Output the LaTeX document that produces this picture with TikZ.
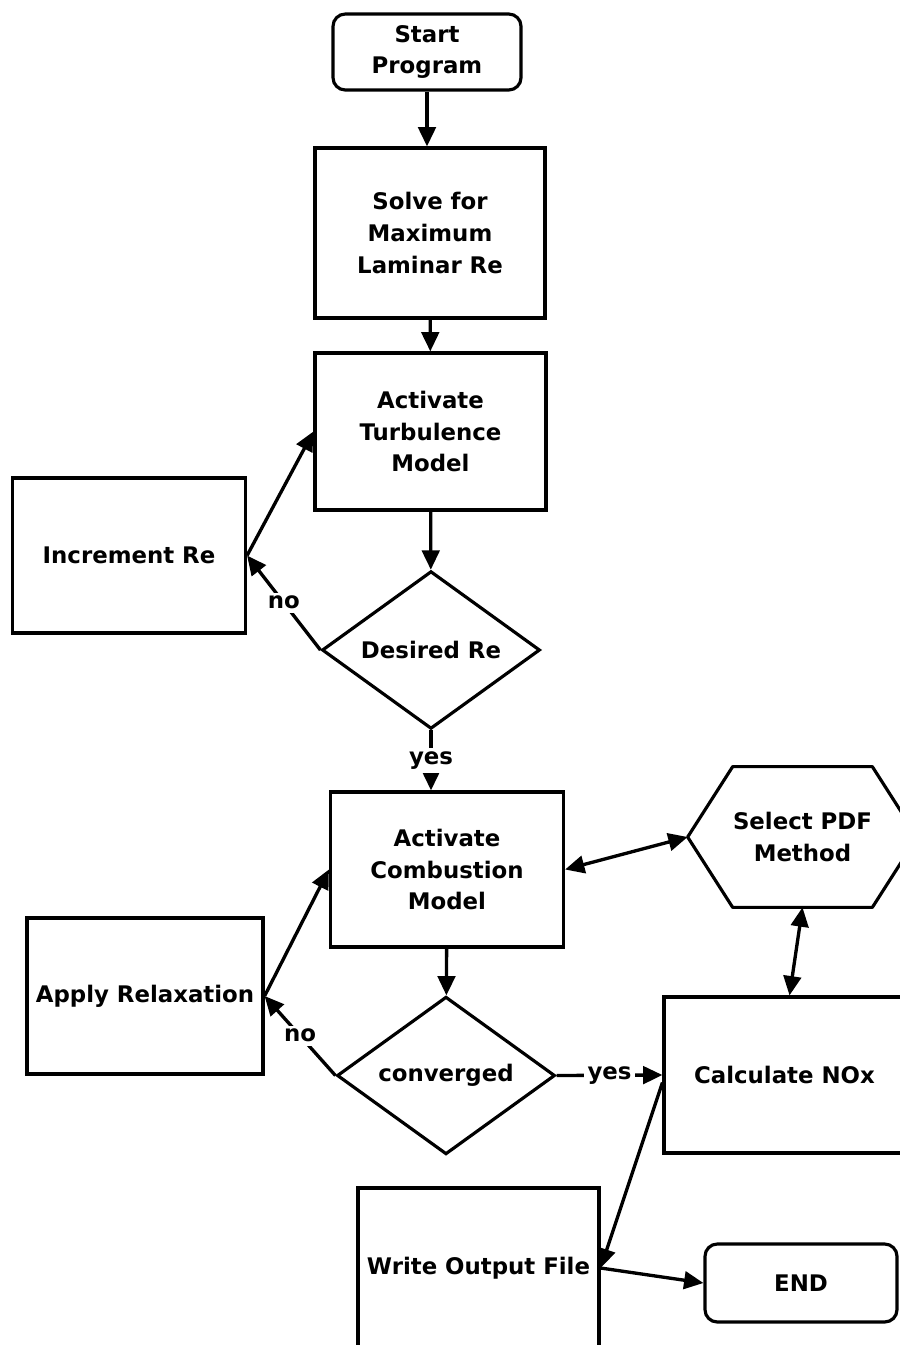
\documentclass[tikz,border=0pt]{standalone}
\usepackage{fontspec}
\setmainfont{DejaVu Sans}
\usepackage{tikz}
\usetikzlibrary{shapes, shapes.geometric, arrows.meta, positioning, calc}

\begin{document}
\begin{tikzpicture}[
	flow_term/.style = {draw, rectangle, rounded corners=7pt, line width=1.8pt,
		minimum width=3.76cm, minimum height=1.52cm, align=center},
	flow_proc/.style = {draw, rectangle, line width=1.8pt,
		minimum width=4.66cm, minimum height=3.12cm, align=center},
	flow_dec/.style  = {draw, diamond, line width=1.8pt, inner sep=0pt,
		minimum width=4.36cm, minimum height=2.75cm, align=center},
	flow_sel/.style  = {rectangle, minimum width=4.58cm, minimum height=2.8cm, align=center},
	flow_lbl/.style  = {fill=white, inner sep=2pt},
	line/.style      = {->, line width=1.9pt, >={Triangle[length=11pt, width=10pt]}},
	every node/.style = {font=\fontsize{13}{18}\selectfont\bfseries}
	]
	\useasboundingbox (0,0) rectangle (17.98,-26.9);
	
	% main column
	\node[flow_term] (start_prog) at (8.54,-1.04) {Start\\Program};
	\node[flow_proc, minimum height=3.4cm, minimum width=4.6cm] (solve) at (8.6,-4.66)
	{Solve for\\Maximum\\Laminar Re};
	\node[flow_proc, minimum height=3.14cm, minimum width=4.62cm] (turb) at (8.61,-8.63)
	{Activate\\Turbulence\\Model};
	\node[flow_dec] (desired) at (8.62,-13.0) {Desired Re};
	\node[flow_proc, minimum height=3.1cm] (incr) at (2.58,-11.11) {Increment Re};
	
	\node[flow_proc, minimum height=3.1cm] (combust) at (8.94,-17.39)
	{Activate\\Combustion\\Model};
	\node[flow_sel] (pdf) at (16.05,-16.74) {Select PDF\\Method};
	\draw[line width=1.8pt, line join=round] (pdf.west) -- ([xshift=0.9cm]pdf.north west)
	-- ([xshift=-0.9cm]pdf.north east) -- (pdf.east) -- ([xshift=-0.9cm]pdf.south east)
	-- ([xshift=0.9cm]pdf.south west) -- cycle;
	\node[flow_proc, minimum width=4.72cm] (relax) at (2.9,-19.92) {Apply Relaxation};
	\node[flow_dec, minimum height=2.78cm] (conv) at (8.92,-21.51) {converged};
	\node[flow_proc, minimum width=4.82cm] (nox) at (15.69,-21.5) {Calculate NOx};
	\node[flow_proc, minimum width=4.82cm, minimum height=3.2cm] (writeout) at (9.57,-25.36)
	{Write Output File};
	\node[flow_term, minimum width=3.84cm, minimum height=1.56cm] (end_prog) at (16.02,-25.66) {END};
	
	\draw[line] (start_prog.south) -- (start_prog.south |- solve.north);
	\draw[line] (solve) -- (turb);
	\draw[line] (turb) -- (desired);
	\draw[line] (desired.west) -- node[flow_lbl] {no} (incr.east);
	\draw[line] (incr.east) -- (turb.west);
	\draw[line] (desired.south) -- node[flow_lbl] {yes} (desired.south |- combust.north);
	
	\draw[line] (combust) -- (conv);
	\draw[line] (relax.east) -- (combust.west);
	\draw[line] (conv.west) -- node[flow_lbl] {no} (relax.east);
	\draw[line] (conv.east) -- node[flow_lbl] {yes} (nox.west);
	\draw[line, <->] (combust.east) -- (pdf.west);
	\draw[line, <->] (pdf.south) -- ([xshift=0.1cm]nox.north);
	\draw[line] ([yshift=-0.15cm]nox.west) -- (writeout.east);
	\draw[line] (writeout.east) -- (end_prog.west);
\end{tikzpicture}
\end{document}
